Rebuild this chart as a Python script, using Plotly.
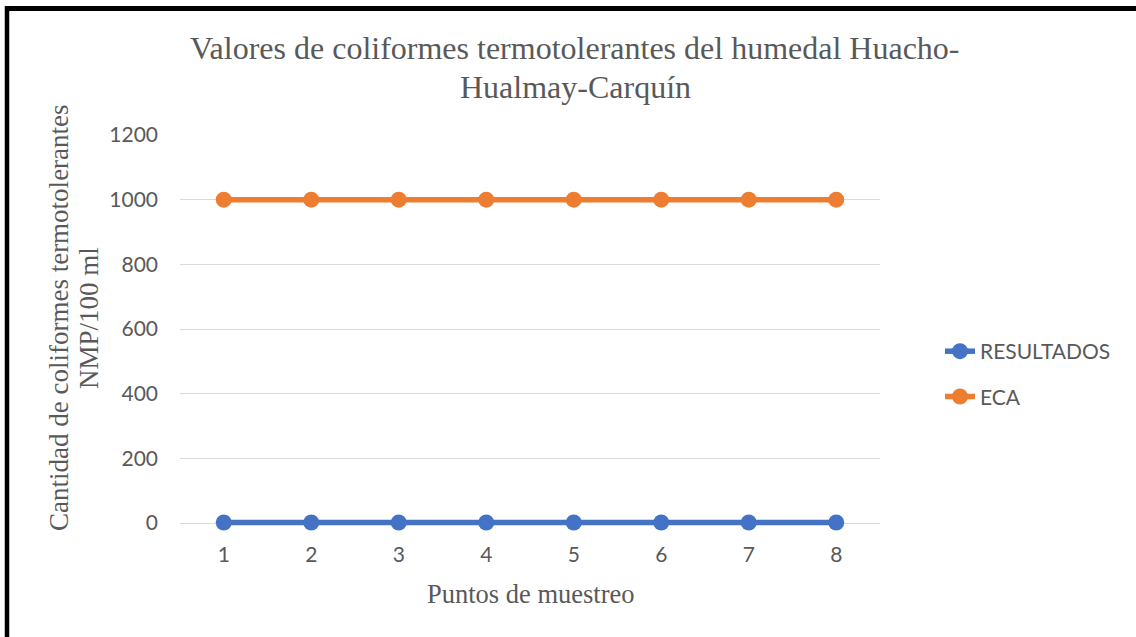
import plotly.graph_objects as go

puntos = [1, 2, 3, 4, 5, 6, 7, 8]
resultados = [1.8, 1.8, 1.8, 1.8, 1.8, 1.8, 1.8, 1.8]
eca = [1000, 1000, 1000, 1000, 1000, 1000, 1000, 1000]
y_ticks = [0, 200, 400, 600, 800, 1000, 1200]

W, H = 1136, 637
YMIN, YMAX = -40, 1200
L, R, T = 180, 256, 135
scale = 388 / 1200
B = 114 - (0 - YMIN) * scale
pw, ph = W - L - R, H - T - B

def px(x):
    return (x - L) / pw

def py(y):
    return (H - B - y) / ph

TXT = "#595959"
SERIF = "Liberation Serif, Times New Roman, serif"
SANS = "Lato, Calibri, sans-serif"

fig = go.Figure()
fig.add_trace(go.Scatter(x=puntos, y=resultados, name="RESULTADOS", mode="lines+markers",
                         line=dict(color="#4472C4", width=5.5), marker=dict(size=16, color="#4472C4"),
                         legendgroup="a", cliponaxis=False))
fig.add_trace(go.Scatter(x=puntos, y=eca, name="ECA", mode="lines+markers",
                         line=dict(color="#ED7D31", width=5.5), marker=dict(size=16, color="#ED7D31"),
                         legendgroup="b", cliponaxis=False))

def ann(text, x, y, size, angle=0):
    return dict(text=text, textangle=angle, x=px(x), y=py(y), xref="paper", yref="paper",
                xanchor="center", yanchor="middle", showarrow=False,
                font=dict(family=SERIF, size=size, color=TXT))

fig.update_layout(
    width=W, height=H,
    margin=dict(l=L, r=R, t=T, b=B),
    paper_bgcolor="white", plot_bgcolor="white",
    showlegend=True,
    legend=dict(x=px(940), xanchor="left", y=py(331), yanchor="top",
                font=dict(family=SANS, size=21, color=TXT),
                tracegroupgap=15, bgcolor="rgba(0,0,0,0)"),
    xaxis=dict(range=[0.5, 8.5], tickvals=puntos, ticktext=[str(p) for p in puntos],
               showgrid=False, zeroline=False, showline=False, ticks="",
               tickfont=dict(family=SANS, size=21, color=TXT), ticklabelstandoff=4,
               fixedrange=True),
    yaxis=dict(range=[YMIN, YMAX], tickvals=y_ticks, showgrid=True, gridcolor="#D9D9D9", gridwidth=1,
               zeroline=False, showline=False, ticks="",
               tickfont=dict(family=SANS, size=21, color=TXT), ticklabelstandoff=21,
               fixedrange=True),
    annotations=[
        ann("Valores de coliformes termotolerantes del humedal Huacho-", 575, 48, 32),
        ann("Hualmay-Carquín", 575, 87, 32),
        ann("Cantidad de coliformes termotolerantes", 59, 318, 27, -90),
        ann("NMP/100 ml", 89, 318, 27, -90),
        ann("Puntos de muestreo", 531, 594, 26.5),
    ],
    shapes=[
        dict(type="line", xref="paper", yref="paper", x0=px(7), x1=px(7), y0=py(6), y1=py(H + 5),
             line=dict(color="black", width=4.5), layer="above"),
        dict(type="line", xref="paper", yref="paper", x0=px(5), x1=px(W + 5), y0=py(8.5), y1=py(8.5),
             line=dict(color="black", width=5), layer="above"),
    ],
)

fig.write_html("out.html", config={"displayModeBar": False},
               post_script="document.body.style.margin='0';document.body.style.padding='0';")
